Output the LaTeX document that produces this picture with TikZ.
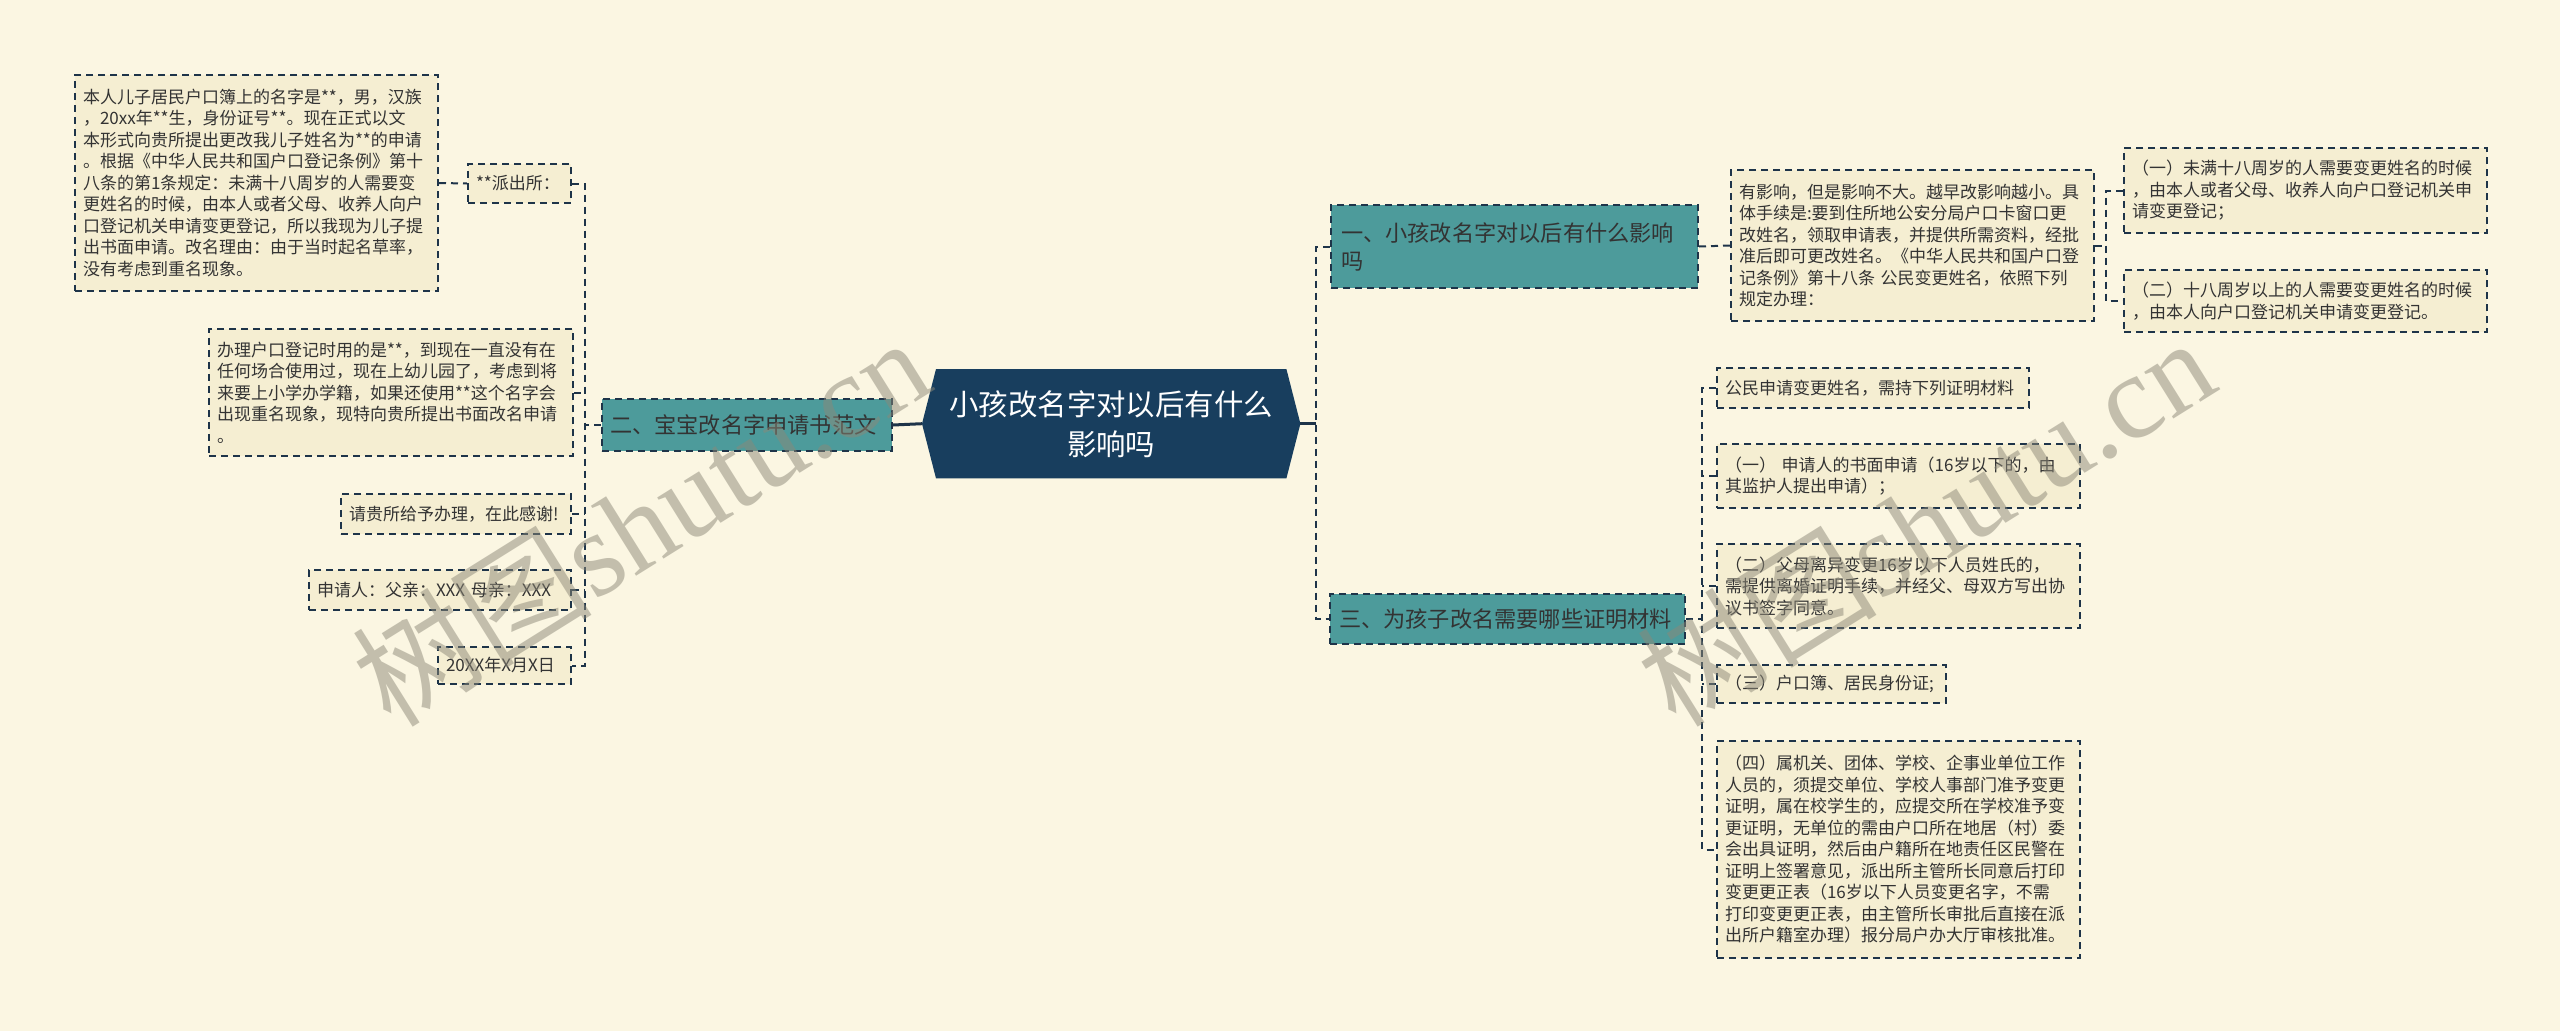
\documentclass[tikz,border=0pt]{standalone}
\usepackage{fontspec}
\setmainfont{Noto Sans CJK SC}
\newfontfamily\wmlatin{Liberation Serif}
\definecolor{bgC}{HTML}{FBF6E2}
\definecolor{leafC}{HTML}{F5EED2}
\definecolor{tealC}{HTML}{4D9B9B}
\definecolor{navyC}{HTML}{183E5E}
\definecolor{lineC}{HTML}{1E3449}
\definecolor{txtC}{HTML}{333333}
\definecolor{wmC}{HTML}{8C8878}
\tikzset{
  box/.style={draw=lineC, line width=2pt, dash pattern=on 7pt off 5pt, anchor=north west, inner xsep=0pt, inner ysep=0pt},
  leaf/.style={box, fill=leafC, text=txtC, align=left, font=\fontsize{17}{21.5}\selectfont},
  branch/.style={box, fill=tealC, text=txtC, align=left, font=\fontsize{22.2}{28}\selectfont},
  conn/.style={draw=lineC, line width=2pt, dash pattern=on 7pt off 5pt},
  mainconn/.style={draw=lineC, line width=3pt},
  wm/.style={text=wmC, text opacity=0.5, font=\fontsize{120}{120}\selectfont, inner sep=0pt}
}
\begin{document}
\begin{tikzpicture}[x=1pt,y=-1pt]
\fill[bgC] (0,0) rectangle (2560,1031);
\useasboundingbox (0,0) rectangle (2560,1031);

% center
\node[anchor=north west, minimum width=378pt, minimum height=109pt, inner sep=0pt] (center) at (922,369) {};
\fill[navyC] ([xshift=14pt]center.north west) -- (center.west) -- ([xshift=14pt]center.south west)
  -- ([xshift=-14pt]center.south east) -- (center.east) -- ([xshift=-14pt]center.north east) -- cycle;
\node[text=white, align=center, font=\fontsize{29.4}{40}\selectfont] (ctext) at (center.center) {小孩改名字对以后有什么\\影响吗};

% branches
\node[branch, minimum width=367pt, minimum height=83pt, text width=347pt] (b1) at (1330,204) {一、小孩改名字对以后有什么影响\\吗};
\node[branch, minimum width=290pt, minimum height=52pt, text width=274pt] (b2) at (601,398) {二、宝宝改名字申请书范文};
\node[branch, minimum width=355pt, minimum height=50pt, text width=337pt] (b3) at (1329,593) {三、为孩子改名需要哪些证明材料};

% left leaves
\node[leaf, minimum width=363pt, minimum height=216pt, text width=347pt] (big) at (74,74) {本人儿子居民户口簿上的名字是**，男，汉族\\，20xx年**生，身份证号**。现在正式以文\\本形式向贵所提出更改我儿子姓名为**的申请\\。根据《中华人民共和国户口登记条例》第十\\八条的第1条规定：未满十八周岁的人需要变\\更姓名的时候，由本人或者父母、收养人向户\\口登记机关申请变更登记，所以我现为儿子提\\出书面申请。改名理由：由于当时起名草率，\\没有考虑到重名现象。};
\node[leaf, minimum width=103pt, minimum height=39pt, text width=87pt] (pcs) at (467,163) {**派出所：};
\node[leaf, minimum width=364pt, minimum height=127pt, text width=348pt] (bl) at (208,328) {办理户口登记时用的是**，到现在一直没有在\\任何场合使用过，现在上幼儿园了，考虑到将\\来要上小学办学籍，如果还使用**这个名字会\\出现重名现象，现特向贵所提出书面改名申请\\。};
\node[leaf, minimum width=230pt, minimum height=40pt, text width=214pt] (qg) at (340,493) {请贵所给予办理，在此感谢!};
\node[leaf, minimum width=262pt, minimum height=40pt, text width=246pt] (sq) at (308,569) {申请人：父亲：XXX 母亲：XXX};
\node[leaf, minimum width=133pt, minimum height=37pt, text width=117pt] (dt) at (437,646) {20XX年X月X日};

% right leaves
\node[leaf, minimum width=363pt, minimum height=151pt, text width=347pt] (la) at (1730,169) {有影响，但是影响不大。越早改影响越小。具\\体手续是:要到住所地公安分局户口卡窗口更\\改姓名，领取申请表，并提供所需资料，经批\\准后即可更改姓名。《中华人民共和国户口登\\记条例》第十八条 公民变更姓名，依照下列\\规定办理：};
\node[leaf, minimum width=363pt, minimum height=85pt, text width=347pt] (r1) at (2123,147) {（一）未满十八周岁的人需要变更姓名的时候\\，由本人或者父母、收养人向户口登记机关申\\请变更登记；};
\node[leaf, minimum width=363pt, minimum height=62pt, text width=347pt] (r2) at (2123,269) {（二）十八周岁以上的人需要变更姓名的时候\\，由本人向户口登记机关申请变更登记。};

\node[leaf, minimum width=312pt, minimum height=40pt, text width=296pt] (c0) at (1716,367) {公民申请变更姓名，需持下列证明材料};
\node[leaf, minimum width=363pt, minimum height=64pt, text width=347pt] (c1) at (1716,443) {（一） 申请人的书面申请（16岁以下的，由\\其监护人提出申请）；};
\node[leaf, minimum width=363pt, minimum height=84pt, text width=347pt] (c2) at (1716,543) {（二）父母离异变更16岁以下人员姓氏的，\\需提供离婚证明手续，并经父、母双方写出协\\议书签字同意。};
\node[leaf, minimum width=229pt, minimum height=38pt, text width=213pt] (c3) at (1716,664) {（三）户口簿、居民身份证;};
\node[leaf, minimum width=363pt, minimum height=217pt, text width=347pt] (c4) at (1716,740) {（四）属机关、团体、学校、企事业单位工作\\人员的，须提交单位、学校人事部门准予变更\\证明，属在校学生的，应提交所在学校准予变\\更证明，无单位的需由户口所在地居（村）委\\会出具证明，然后由户籍所在地责任区民警在\\证明上签署意见，派出所主管所长同意后打印\\变更更正表（16岁以下人员变更名字，不需\\打印变更更正表，由主管所长审批后直接在派\\出所户籍室办理）报分局户办大厅审核批准。};

% trunk coordinates
\coordinate (tL) at (585,0);
\coordinate (tR) at (1316,0);
\coordinate (tA) at (2106,0);
\coordinate (tB) at (1702,0);

% center connectors
\draw[mainconn] (b2.east) -- (center.west);
\draw[mainconn] (center.east) -- (center.east -| tR);
\draw[conn] (b1.west) -- (b1.west -| tR) -- (b3.west -| tR) -- (b3.west);

% branch 2 tree
\draw[conn] (b2.west) -- (b2.west -| tL);
\draw[conn] (pcs.east) -- (pcs.east -| tL) -- (dt.east -| tL) -- (dt.east);
\draw[conn] (bl.east) -- (bl.east -| tL);
\draw[conn] (qg.east) -- (qg.east -| tL);
\draw[conn] (sq.east) -- (sq.east -| tL);
\draw[conn] (big.east) -- (pcs.west);

% branch 1 tree
\draw[conn] (b1.east) -- (la.west);
\draw[conn] (la.east) -- (la.east -| tA);
\draw[conn] (r1.west) -- (r1.west -| tA) -- (r2.west -| tA) -- (r2.west);

% branch 3 tree
\draw[conn] (b3.east) -- (b3.east -| tB);
\draw[conn] (c0.west) -- (c0.west -| tB) -- (c4.west -| tB) -- (c4.west);
\draw[conn] (c1.west) -- (c1.west -| tB);
\draw[conn] (c2.west) -- (c2.west -| tB);
\draw[conn] (c3.west) -- (c3.west -| tB);

% watermarks
\node[wm, rotate=32] (wm1) at (640,520) {树图{\wmlatin shutu.cn}};
\node[wm, rotate=32] (wm2) at (1925,520) {树图{\wmlatin shutu.cn}};
\end{tikzpicture}
\end{document}
